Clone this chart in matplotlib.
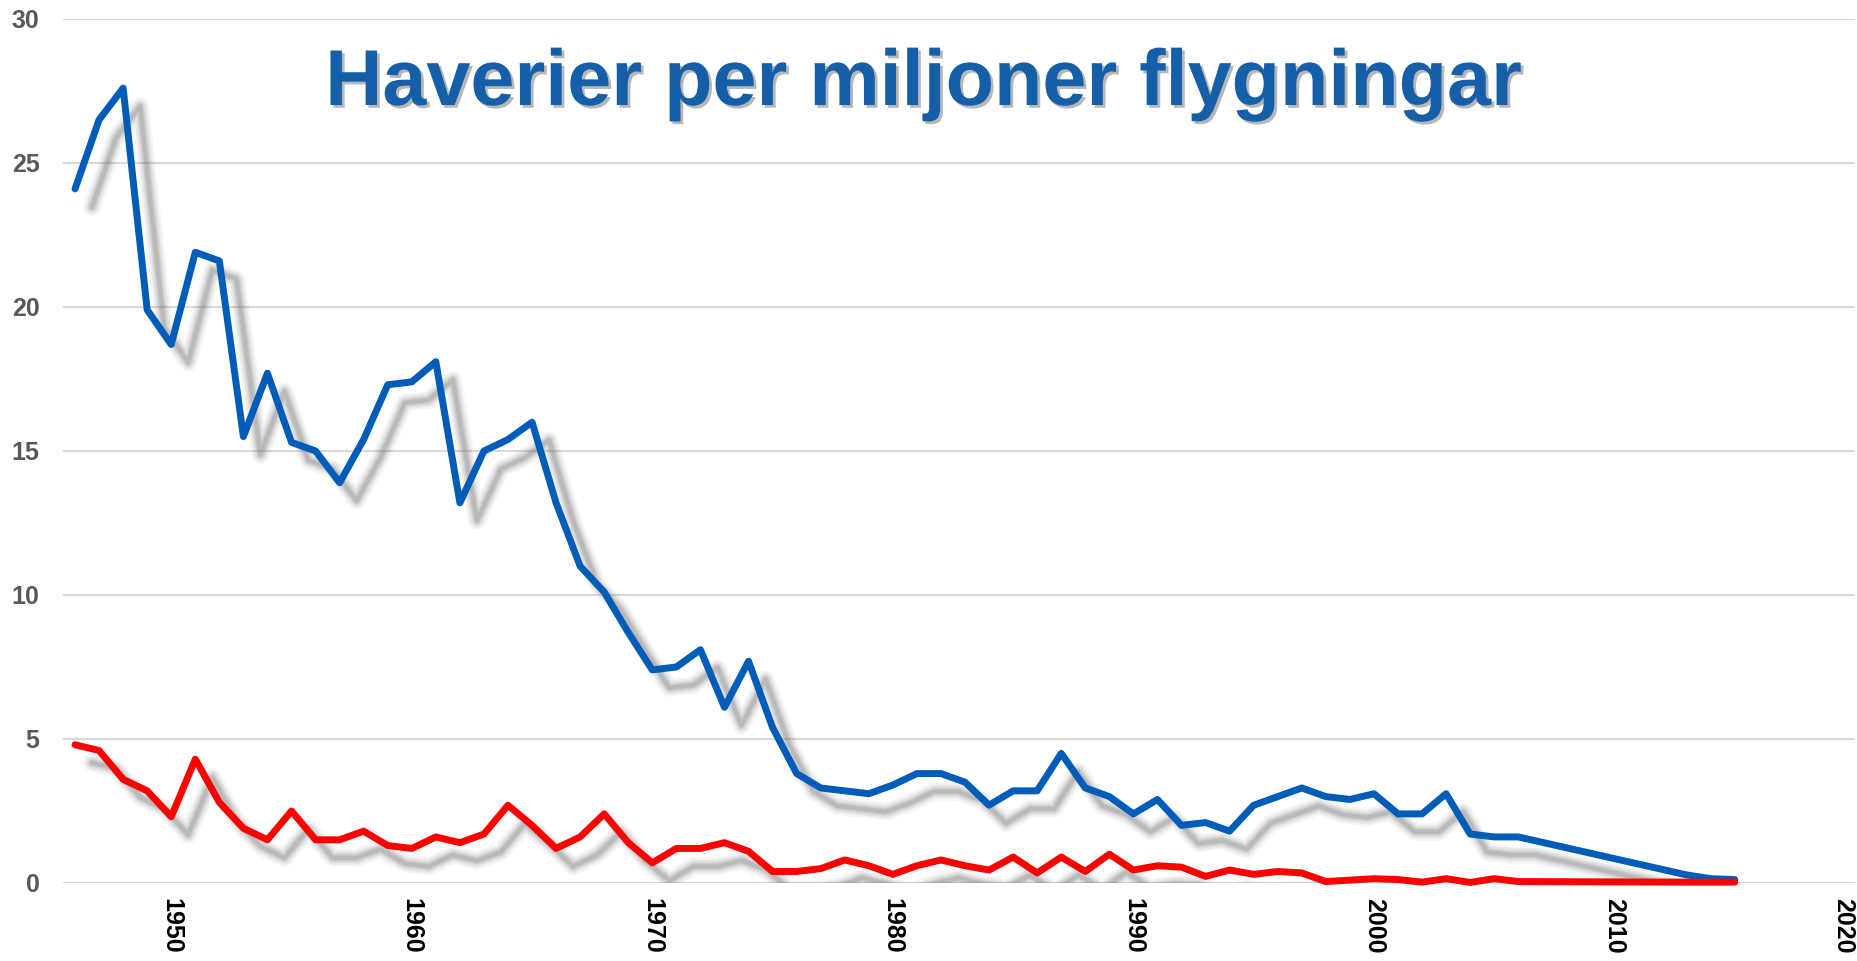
import numpy as np
import matplotlib
matplotlib.use("Agg")
import matplotlib.pyplot as plt
import matplotlib.transforms as mtransforms
import matplotlib.patheffects as pe

plt.rcParams['font.family'] = ['Liberation Sans', 'DejaVu Sans']

# years with data (no points between 2006 and 2013)
years = [1946, 1947, 1948, 1949, 1950, 1951, 1952, 1953, 1954, 1955,
         1956, 1957, 1958, 1959, 1960, 1961, 1962, 1963, 1964, 1965,
         1966, 1967, 1968, 1969, 1970, 1971, 1972, 1973, 1974, 1975,
         1976, 1977, 1978, 1979, 1980, 1981, 1982, 1983, 1984, 1985,
         1986, 1987, 1988, 1989, 1990, 1991, 1992, 1993, 1994, 1995,
         1996, 1997, 1998, 1999, 2000, 2001, 2002, 2003, 2004, 2005,
         2006, 2013, 2014, 2015]

blue_vals = [24.1, 26.5, 27.6, 19.9, 18.7, 21.9, 21.6, 15.5, 17.7, 15.3,
             15.0, 13.9, 15.4, 17.3, 17.4, 18.1, 13.2, 15.0, 15.4, 16.0,
             13.2, 11.0, 10.1, 8.7, 7.4, 7.5, 8.1, 6.1, 7.7, 5.4,
             3.8, 3.3, 3.2, 3.1, 3.4, 3.8, 3.8, 3.5, 2.7, 3.2,
             3.2, 4.5, 3.3, 3.0, 2.4, 2.9, 2.0, 2.1, 1.8, 2.7,
             3.0, 3.3, 3.0, 2.9, 3.1, 2.4, 2.4, 3.1, 1.7, 1.6,
             1.6, 0.28, 0.15, 0.12]

red_vals = [4.8, 4.6, 3.6, 3.2, 2.3, 4.3, 2.8, 1.9, 1.5, 2.5,
            1.5, 1.5, 1.8, 1.3, 1.2, 1.6, 1.4, 1.7, 2.7, 2.0,
            1.2, 1.6, 2.4, 1.4, 0.7, 1.2, 1.2, 1.4, 1.1, 0.4,
            0.4, 0.5, 0.8, 0.6, 0.3, 0.6, 0.8, 0.6, 0.45, 0.9,
            0.35, 0.9, 0.4, 1.0, 0.45, 0.6, 0.55, 0.23, 0.45, 0.3,
            0.4, 0.35, 0.05, 0.1, 0.15, 0.12, 0.03, 0.15, 0.02, 0.15,
            0.05, 0.03, 0.03, 0.03]

x_ticks = [1950, 1960, 1970, 1980, 1990, 2000, 2010, 2020]
y_ticks = [0, 5, 10, 15, 20, 25, 30]
title = "Haverier per miljoner flygningar"

W, H = 1858, 961
fig = plt.figure(figsize=(W / 100, H / 100), dpi=100)
ax = fig.add_axes([63 / W, 78 / H, (1855 - 63) / W, 864 / H])

ax.set_xlim(1945.5, 2020)
ax.set_ylim(0, 30)

# blurred drop shadows, shifted right and down
shadow_tr = mtransforms.offset_copy(ax.transData, fig=fig, x=17, y=-18, units='dots')
for vals in (blue_vals, red_vals):
    for lw, a in [(13, 0.05), (10, 0.07), (7.5, 0.09), (5, 0.12), (3, 0.14)]:
        ax.plot(years, vals, color='#555555', lw=lw, alpha=a, transform=shadow_tr,
                solid_joinstyle='round', solid_capstyle='round', zorder=2)

ax.plot(years, blue_vals, color='#005CB9', lw=5, solid_joinstyle='round',
        solid_capstyle='round', zorder=4, clip_on=False)
ax.plot(years, red_vals, color='#FF0000', lw=5, solid_joinstyle='round',
        solid_capstyle='round', zorder=5, clip_on=False)

ax.set_yticks(y_ticks)
ax.set_xticks(x_ticks)
ax.grid(axis='y', color='#D9D9D9', lw=1.5)
ax.set_axisbelow(True)
for s in ax.spines.values():
    s.set_visible(False)
ax.tick_params(axis='y', length=0, pad=17, labelsize=18, labelcolor='#595959')
ax.tick_params(axis='x', length=0, pad=11, labelsize=18, labelcolor='#000000',
               labelrotation=-90)
for lab in ax.get_yticklabels() + ax.get_xticklabels():
    lab.set_fontweight('bold')
ax.get_xticklabels()[-1].set_horizontalalignment('right')

fig.text(924 / W, 1 - 105 / H, title, ha='center', va='baseline', fontsize=57,
         fontweight='bold', color='#155FA8',
         path_effects=[pe.withSimplePatchShadow(offset=(2, -2), shadow_rgbFace='#888888', alpha=0.6)])

fig.savefig('out.png', dpi=100)
